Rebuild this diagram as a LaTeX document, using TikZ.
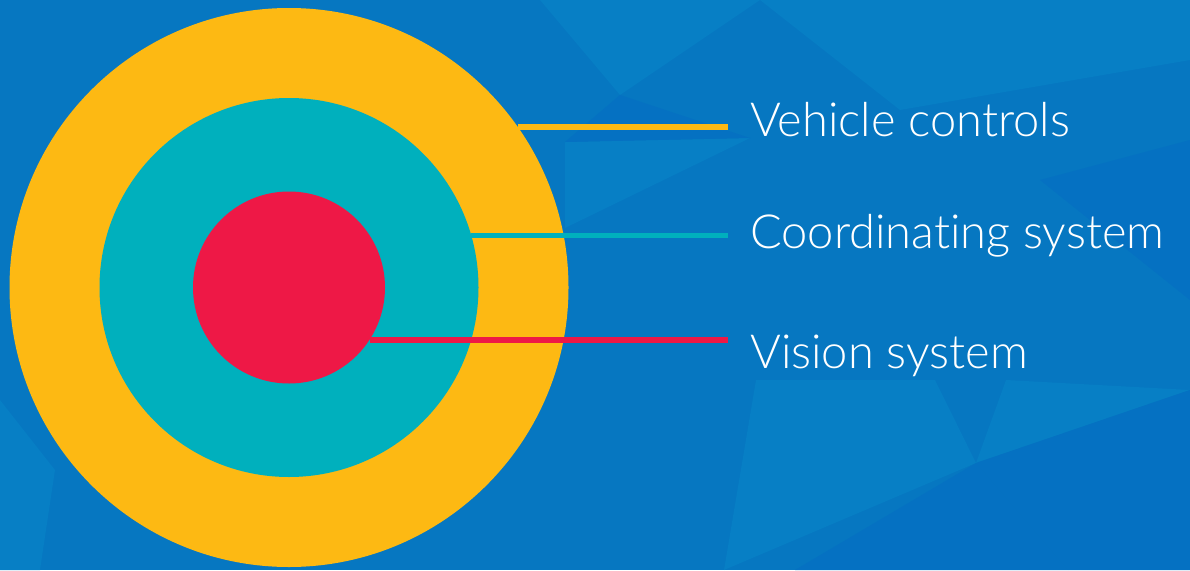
\documentclass[tikz,border=0pt]{standalone}
\usepackage{fontspec}
\setmainfont{Lato Light}[Ligatures={NoCommon,NoRare,NoDiscretionary}]
\definecolor{bgblue}{HTML}{0677C1}
\definecolor{bglight}{HTML}{077FC5}
\definecolor{bgdark}{HTML}{0571C2}
\definecolor{ringyellow}{HTML}{FDB913}
\definecolor{ringteal}{HTML}{00B0BD}
\definecolor{ringred}{HTML}{EE1846}

\begin{document}
\begin{tikzpicture}[x=1pt, y=-1pt,
    ring/.style={circle, inner sep=0pt, outer sep=0pt},
    lbl/.style={anchor=base west, inner sep=0pt, text=white, font=\fontsize{47}{54}\selectfont},
    lead/.style={line width=5.5pt, shorten >=22pt}]
  \fill[bgblue] (0,0) rectangle (1190,570);
  \useasboundingbox (0,0) rectangle (1190,570);
  \fill[bglight] (540,0) -- (760,0) -- (620,95) -- cycle;
  \fill[bglight] (760,0) -- (1190,0) -- (1190,60) -- (900,110) -- cycle;
  \fill[bglight] (565,142) -- (565,228) -- (750,138) -- cycle;
  \fill[bgdark] (620,95) -- (565,142) -- (750,138) -- cycle;
  \fill[bglight] (756,380) -- (935,380) -- (976,463) -- (724,570) -- cycle;
  \fill[bgdark] (976,463) -- (795,570) -- (1068,570) -- cycle;
  \fill[bglight] (1006,380) -- (1190,390) -- (976,463) -- cycle;
  \fill[bgdark] (1190,390) -- (1190,570) -- (1068,570) -- (976,463) -- cycle;
  \fill[bglight] (0,400) -- (55,470) -- (40,570) -- (0,570) -- cycle;
  \fill[bgdark] (1040,180) -- (1190,140) -- (1190,300) -- cycle;

  \node[ring, fill=ringyellow, minimum size=559pt] (outer) at (289,287.5) {};
  \node[ring, fill=ringteal, minimum size=379pt] (middle) at (289,287.5) {};
  \node[ring, fill=ringred, minimum size=192pt] (core) at (289,287.5) {};

  \node[lbl] (vc) at (750,136.7) {Vehicle controls};
  \node[lbl] (cs) at (750,248.3) {Coordinating system};
  \node[lbl] (vs) at (750,368.3) {Vision system};

  \draw[lead, ringyellow] (outer.35.2) -- (outer.35.2 -| vc.west);
  \draw[lead, ringteal] (middle.16.8) -- (middle.16.8 -| cs.west);
  \draw[lead, ringred] (core.-33.9) -- (core.-33.9 -| vs.west);
\end{tikzpicture}
\end{document}
